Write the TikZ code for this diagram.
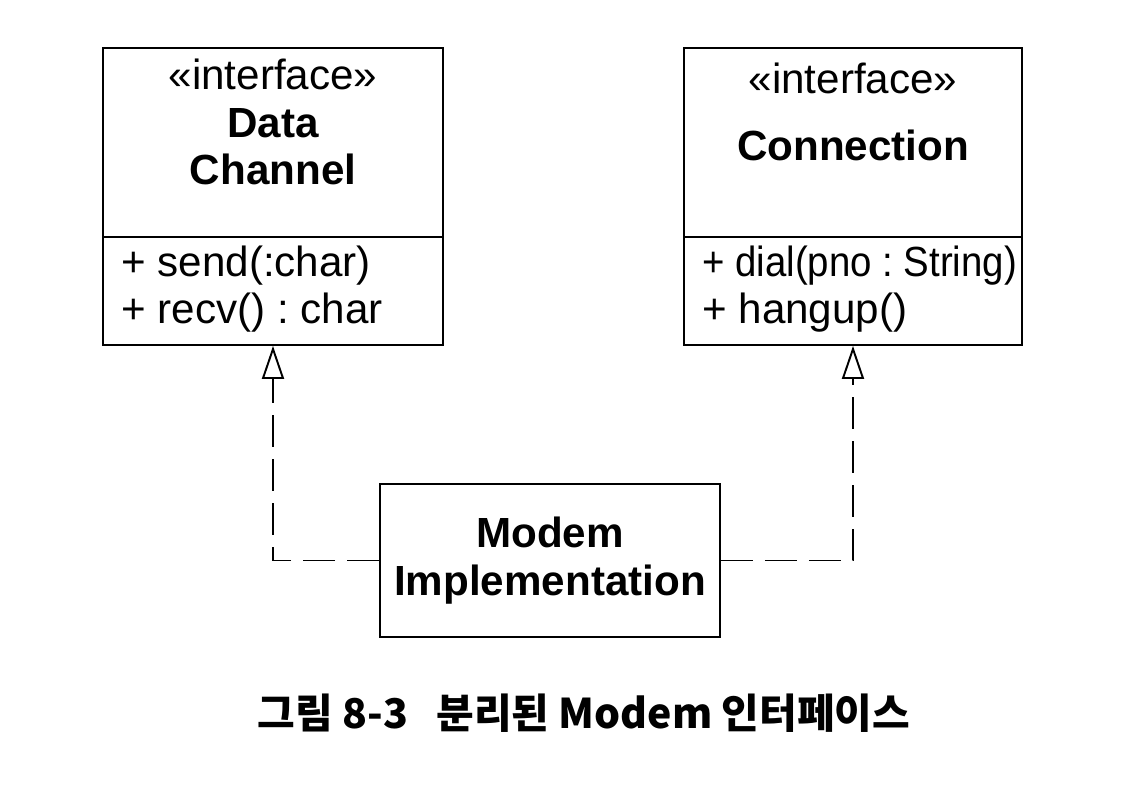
\documentclass[tikz,border=0pt]{standalone}
\usepackage{fontspec}
\setmainfont{Liberation Sans}
\newfontfamily\kr{Noto Sans CJK KR}
\usetikzlibrary{arrows.meta}
\frenchspacing

\begin{document}
\begin{tikzpicture}[x=0.02cm,y=-0.02cm,
		box/.style={draw,line width=1.1pt,inner sep=0pt},
		txt/.style={font=\fontsize{24}{27}\selectfont,inner sep=0pt,align=center},
		realize/.style={line width=1.1pt,dash pattern=on 6.4mm off 2.4mm,-{Triangle[open,length=6.6mm,width=4.4mm,line width=1.1pt]}}]
		\useasboundingbox (0,0) rectangle (1134,788);
		% the two interfaces
		\node[box,minimum width=6.8cm,minimum height=5.94cm] (dc) at (273,196.5) {};
		\node[box,minimum width=6.76cm,minimum height=5.94cm] (cn) at (853,196.5) {};
		\draw[line width=1.1pt] (dc.west |- 0,237) -- (dc.east |- 0,237);
		\draw[line width=1.1pt] (cn.west |- 0,237) -- (cn.east |- 0,237);
		\node[txt] (dcname) at (273,122) {«interface»\\\textbf{Data}\\\textbf{Channel}};
		\node[txt] (cnst) at (853,78) {«interface»};
		\node[txt] (cnname) at (853,145) {\textbf{Connection}};
		\node[txt,align=left,anchor=west] (dcops) at (121,289) {+ send(:char)\\+ recv() : char};
		\node[txt,align=left,anchor=west] (cnops) at (702,289)
			{{\addfontfeature{FakeStretch=0.91}+ dial(pno : String)}\\+ hangup()};
		% the implementation
		\node[box,minimum width=6.8cm,minimum height=3.06cm,txt] (mi) at (550,560.5)
			{\textbf{Modem}\\\textbf{Implementation}};
		\draw[realize] (mi.west) -| (dc.south);
		\draw[realize] (mi.east) -| (cn.south);
		% caption
		\node[inner sep=0pt,font=\kr\bfseries\fontsize{23.3}{27}\selectfont] (cap) at (584,713)
			{그림 8-3\hspace{0.7em}분리된 Modem 인터페이스};
	\end{tikzpicture}
\end{document}
